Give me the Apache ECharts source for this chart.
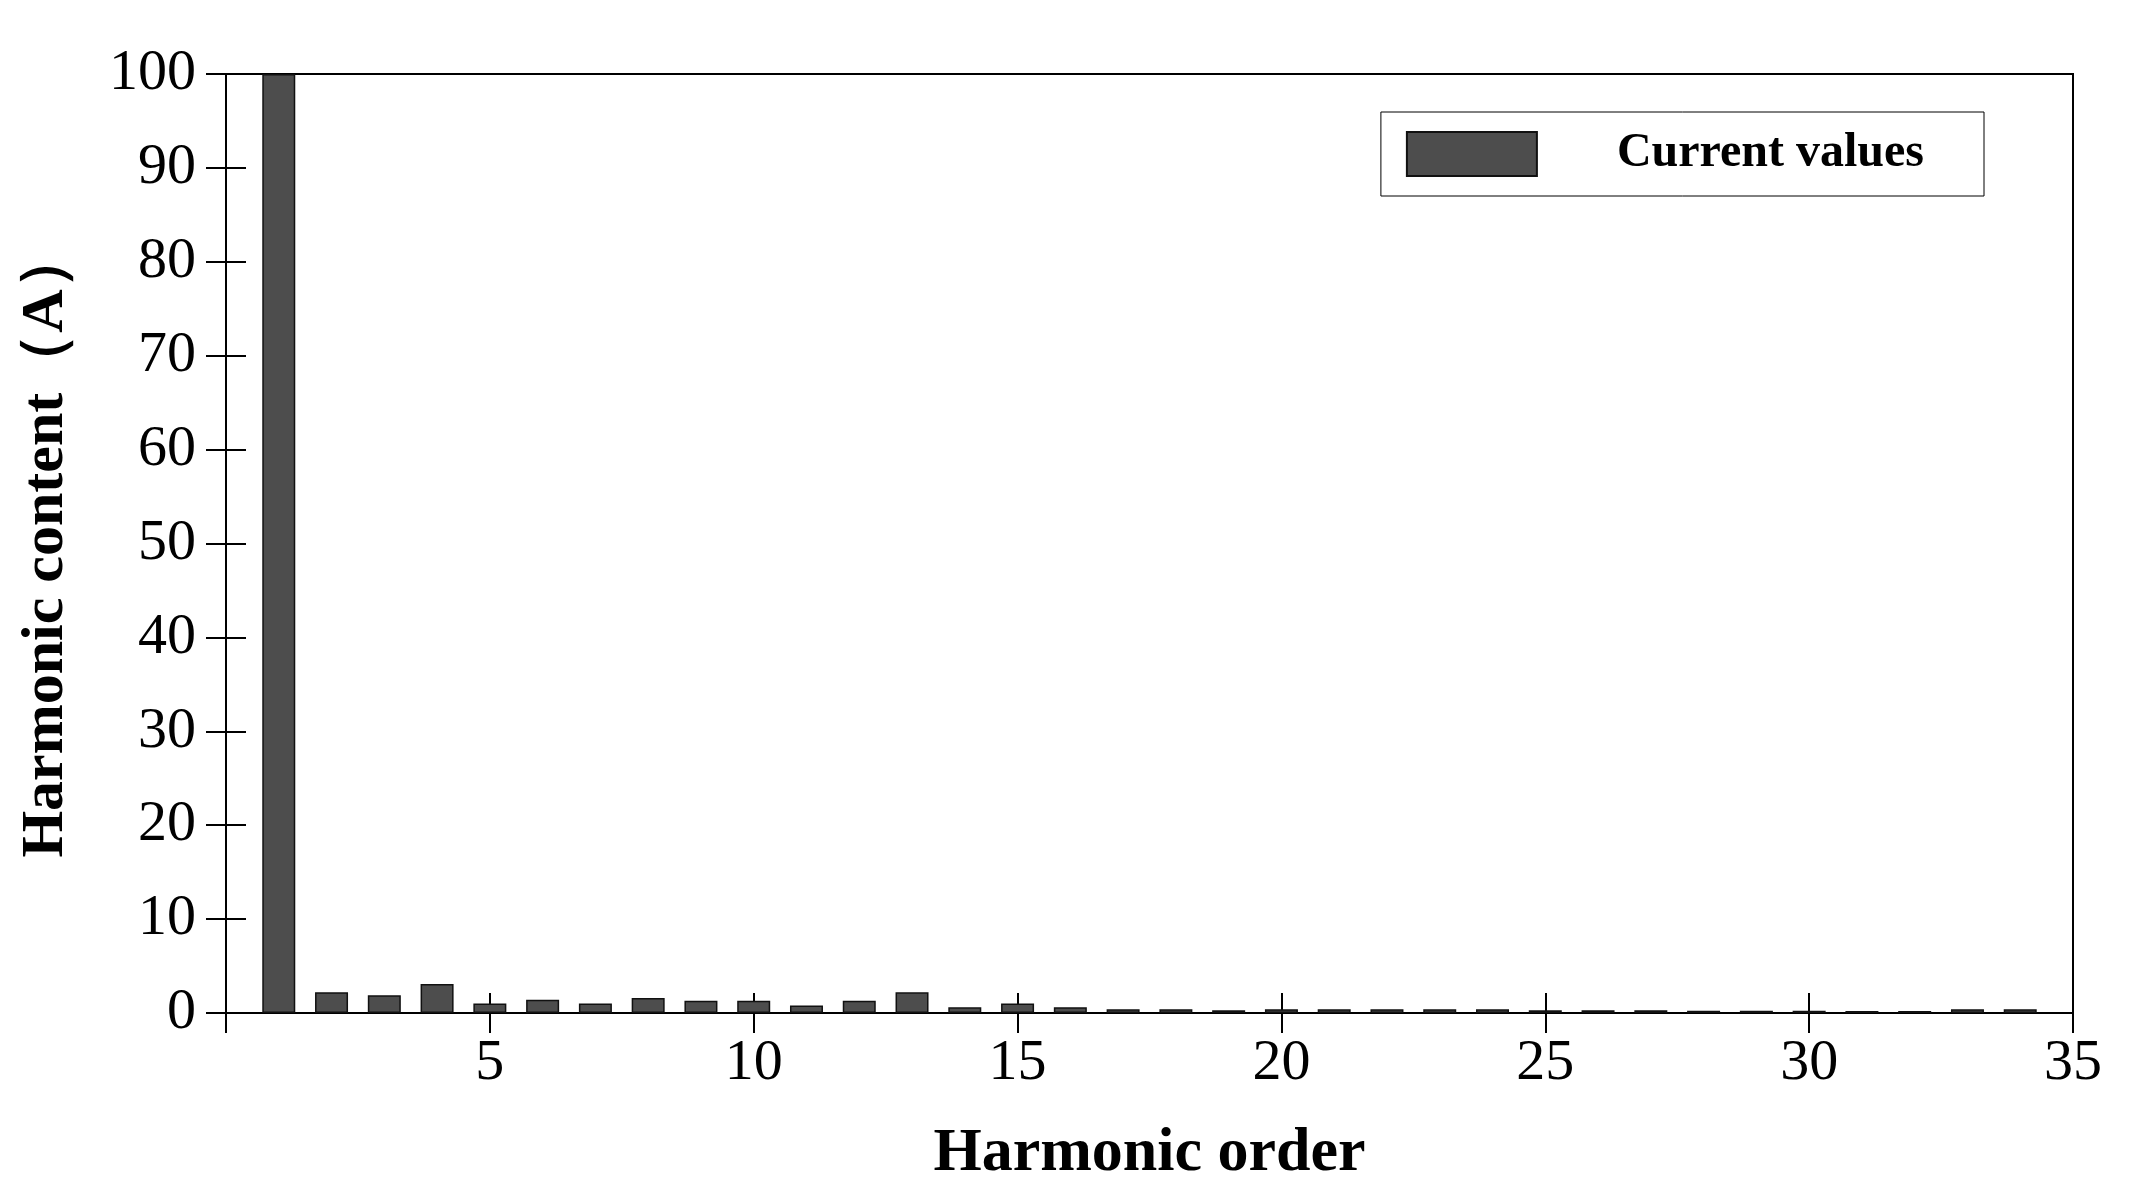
<!DOCTYPE html>
<html>
<head>
<meta charset="utf-8">
<script src="https://cdn.jsdelivr.net/npm/echarts@6/dist/echarts.min.js"></script>
<style>html,body{margin:0;background:#fff}#chart{width:2136px;height:1203px}</style>
</head>
<body>
<div id="chart"></div>
<script>
var orders = [1,2,3,4,5,6,7,8,9,10,11,12,13,14,15,16,17,18,19,20,21,22,23,24,25,26,27,28,29,30,31,32,33,34];
var currentValues = [100,2.2,1.9,3.1,1.0,1.4,1.0,1.6,1.3,1.3,0.8,1.3,2.2,0.6,1.0,0.6,0.4,0.4,0.3,0.4,0.4,0.4,0.4,0.4,0.3,0.3,0.3,0.25,0.25,0.25,0.2,0.2,0.4,0.4];

var chart = echarts.init(document.getElementById("chart"));
var font = "Liberation Serif";
var tickStyle = {show: true, inside: true, length: 20, lineStyle: {color: "#000", width: 2}};
chart.setOption({
    animation: false,
    textStyle: {fontFamily: font},
    grid: {left: 226, right: 63, top: 74, bottom: 190, show: true, borderColor: "#000", borderWidth: 2},
    legend: {
        right: 152, top: 112, itemWidth: 130, itemHeight: 44, itemGap: 10, icon: "rect",
        padding: [18, 60, 18, 25], borderColor: "#000", borderWidth: 1,
        textStyle: {fontFamily: font, fontSize: 48, fontWeight: "bold", color: "#000", padding: [0, 0, 0, 75]},
        data: ["Current values"]
    },
    xAxis: [{
        type: "value", min: 0, max: 35, interval: 5,
        name: "Harmonic order", nameLocation: "middle", nameGap: 110,
        nameTextStyle: {fontSize: 62, fontWeight: "bold", color: "#000"},
        axisLine: {lineStyle: {color: "#000", width: 2}},
        axisTick: tickStyle, splitLine: {show: false},
        axisLabel: {fontSize: 58, color: "#000", margin: 22, formatter: function (v) { return v === 0 ? "" : v; }}
    }, {
        type: "value", min: 0, max: 35, interval: 5, position: "top",
        axisLine: {show: true, lineStyle: {color: "#000", width: 2}},
        axisTick: tickStyle, axisLabel: {show: false}, splitLine: {show: false}
    }],
    yAxis: [{
        type: "value", min: 0, max: 100, interval: 10,
        name: "Harmonic content（A）", nameLocation: "middle", nameGap: 150,
        nameTextStyle: {fontSize: 60, fontWeight: "bold", color: "#000"},
        axisLine: {show: true, lineStyle: {color: "#000", width: 2}},
        axisTick: tickStyle, splitLine: {show: false},
        axisLabel: {fontSize: 58, color: "#000", margin: 30}
    }, {
        type: "value", min: 0, max: 100, interval: 10, position: "right",
        axisLine: {show: true, lineStyle: {color: "#000", width: 2}},
        axisTick: tickStyle, axisLabel: {show: false}, splitLine: {show: false}
    }],
    series: [{
        name: "Current values", type: "bar", barWidth: 33,
        itemStyle: {color: "#4d4d4d", borderColor: "#111", borderWidth: 1.5},
        data: orders.map(function (o, i) { return [o, currentValues[i]]; })
    }, {
        type: "scatter", xAxisIndex: 1, yAxisIndex: 1, symbolSize: 0, silent: true, data: []
    }]
});
</script>
</body>
</html>
